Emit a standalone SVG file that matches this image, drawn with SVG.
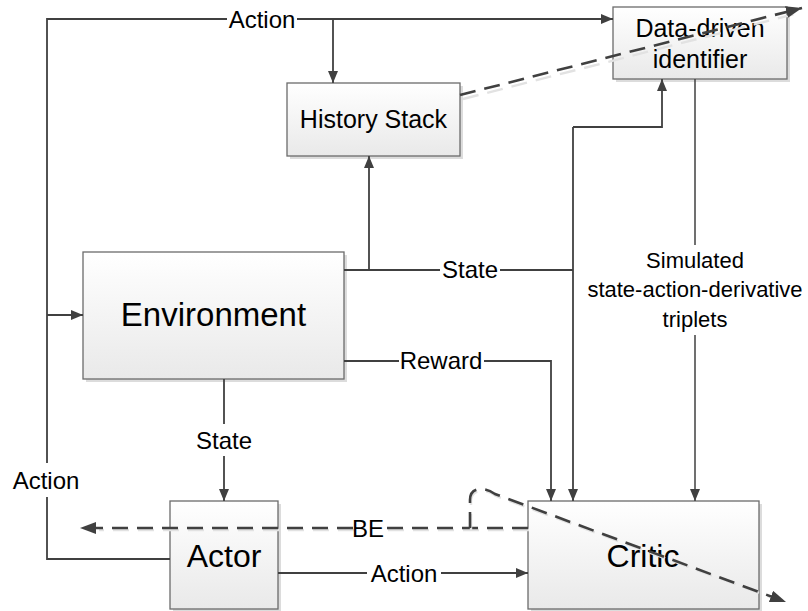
<svg xmlns="http://www.w3.org/2000/svg" width="808" height="611" viewBox="0 0 808 611">
  <defs>
    <linearGradient id="boxFill" x1="0" y1="0" x2="0" y2="1">
      <stop offset="0" stop-color="#ffffff"/>
      <stop offset="1" stop-color="#e9e9e9"/>
    </linearGradient>
    <marker id="arrow" viewBox="0 0 12 10" refX="12" refY="5" markerWidth="12" markerHeight="10" markerUnits="userSpaceOnUse" orient="auto">
      <path d="M0,0 L12,5 L0,10 Z" fill="#404040"/>
    </marker>
    <marker id="arrowBig" viewBox="0 0 16 12" refX="16" refY="6" markerWidth="16" markerHeight="12" markerUnits="userSpaceOnUse" orient="auto">
      <path d="M0,0 L16,6 L0,12 Z" fill="#404040"/>
    </marker>
  </defs>
  <style>
    .box { fill: url(#boxFill); stroke: #6b6b6b; stroke-width: 1.3; }
    .shadow { fill: #dcdcdc; }
    .line { fill: none; stroke: #404040; stroke-width: 1.8; }
    .dash { fill: none; stroke: #404040; stroke-width: 2.6; stroke-dasharray: 16 9; }
    .dashShadow { fill: none; stroke: #e2e2e2; stroke-width: 2.4; stroke-dasharray: 16 9; }
    text { font-family: "Liberation Sans", Arial, sans-serif; fill: #000; text-anchor: middle; }
    .lbl { font-size: 24px; }
    .big { font-size: 33px; }
  </style>

  <!-- nodes -->
  <g id="history-stack">
    <rect class="shadow" x="290" y="86" width="173" height="73"/>
    <rect class="box" x="287" y="83" width="173" height="73"/>
    <text class="lbl" x="373.5" y="128" style="font-size:25px">History Stack</text>
  </g>
  <g id="data-driven-identifier">
    <rect class="shadow" x="616" y="10" width="174" height="72"/>
    <rect class="box" x="613" y="7" width="174" height="72"/>
    <text class="lbl" x="700" y="37" style="font-size:25px">Data-driven</text>
    <text class="lbl" x="700" y="68" style="font-size:25px">identifier</text>
  </g>
  <g id="environment">
    <rect class="shadow" x="86" y="255" width="261" height="127"/>
    <rect class="box" x="83" y="252" width="261" height="127"/>
    <text class="big" x="213.5" y="326">Environment</text>
  </g>
  <g id="actor">
    <rect class="shadow" x="173" y="504" width="108" height="108"/>
    <rect class="box" x="170" y="501" width="108" height="108"/>
    <text class="big" x="224" y="567" style="font-size:32px">Actor</text>
  </g>
  <g id="critic">
    <rect class="shadow" x="531" y="504" width="231" height="108"/>
    <rect class="box" x="528" y="501" width="231" height="108"/>
    <text class="big" x="643" y="567" style="font-size:32px">Critic</text>
  </g>

  <!-- connectors -->
  <g id="connectors">
    <!-- action loop: actor -> left rail -> top -> identifier / environment / history -->
    <path class="line" d="M170,559 H47 V497"/>
    <path class="line" d="M47,463 V19 H227"/>
    <path class="line" d="M297,19 H613" marker-end="url(#arrow)"/>
    <path class="line" d="M333,19 V83" marker-end="url(#arrow)"/>
    <path class="line" d="M47,315 H83" marker-end="url(#arrow)"/>
    <text class="lbl" x="262" y="28">Action</text>
    <text class="lbl" x="46" y="489">Action</text>

    <!-- state from environment -->
    <path class="line" d="M344,270 H440"/>
    <path class="line" d="M500,270 H573"/>
    <path class="line" d="M369,270 V156" marker-end="url(#arrow)"/>
    <path class="line" d="M573,127 V501" marker-end="url(#arrow)"/>
    <path class="line" d="M573,127 H662 V79" marker-end="url(#arrow)"/>
    <text class="lbl" x="470" y="278">State</text>

    <!-- reward -->
    <path class="line" d="M344,361 H399"/>
    <path class="line" d="M484,361 H551 V501" marker-end="url(#arrow)"/>
    <text class="lbl" x="441" y="369">Reward</text>

    <!-- simulated triplets -->
    <path class="line" d="M695,79 V245" style="stroke-width:1.5"/>
    <path class="line" d="M695,335 V501" style="stroke-width:1.5" marker-end="url(#arrow)"/>
    <text class="lbl" x="695" y="268" style="font-size:22px">Simulated</text>
    <text class="lbl" x="695" y="297" style="font-size:22px">state-action-derivative</text>
    <text class="lbl" x="695" y="327" style="font-size:22px">triplets</text>

    <!-- state to actor -->
    <path class="line" d="M224,379 V424"/>
    <path class="line" d="M224,456 V501" marker-end="url(#arrow)"/>
    <text class="lbl" x="224" y="449">State</text>

    <!-- actor action to critic -->
    <path class="line" d="M278,573 H367"/>
    <path class="line" d="M441,573 H528" marker-end="url(#arrow)"/>
    <text class="lbl" x="404" y="582">Action</text>

    <!-- dashed: history stack to beyond identifier -->
    <path class="dashShadow" d="M462,97 L798,11" transform="translate(1,2)"/>
    <path class="dash" d="M460,95 L802,8" marker-end="url(#arrowBig)"/>

    <!-- dashed: BE from critic to left -->
    <path class="dashShadow" d="M528,528 H383 M353,528 H98" transform="translate(1,2)"/>
    <path class="dash" d="M528,528 H383"/>
    <path class="dash" d="M353,528 H80" marker-end="url(#arrowBig)"/>
    <text class="lbl" x="368" y="537">BE</text>

    <!-- dashed hop leading to the diagonal through critic -->
    <path class="dashShadow" d="M470,528 V500 Q470,489 481,489 Q488,489 495,494 L780,599" transform="translate(1,2)"/>
    <path class="dash" d="M470,528 V500 Q470,489 481,489 Q488,489 495,494 L786,602" marker-end="url(#arrowBig)"/>
  </g>
</svg>
